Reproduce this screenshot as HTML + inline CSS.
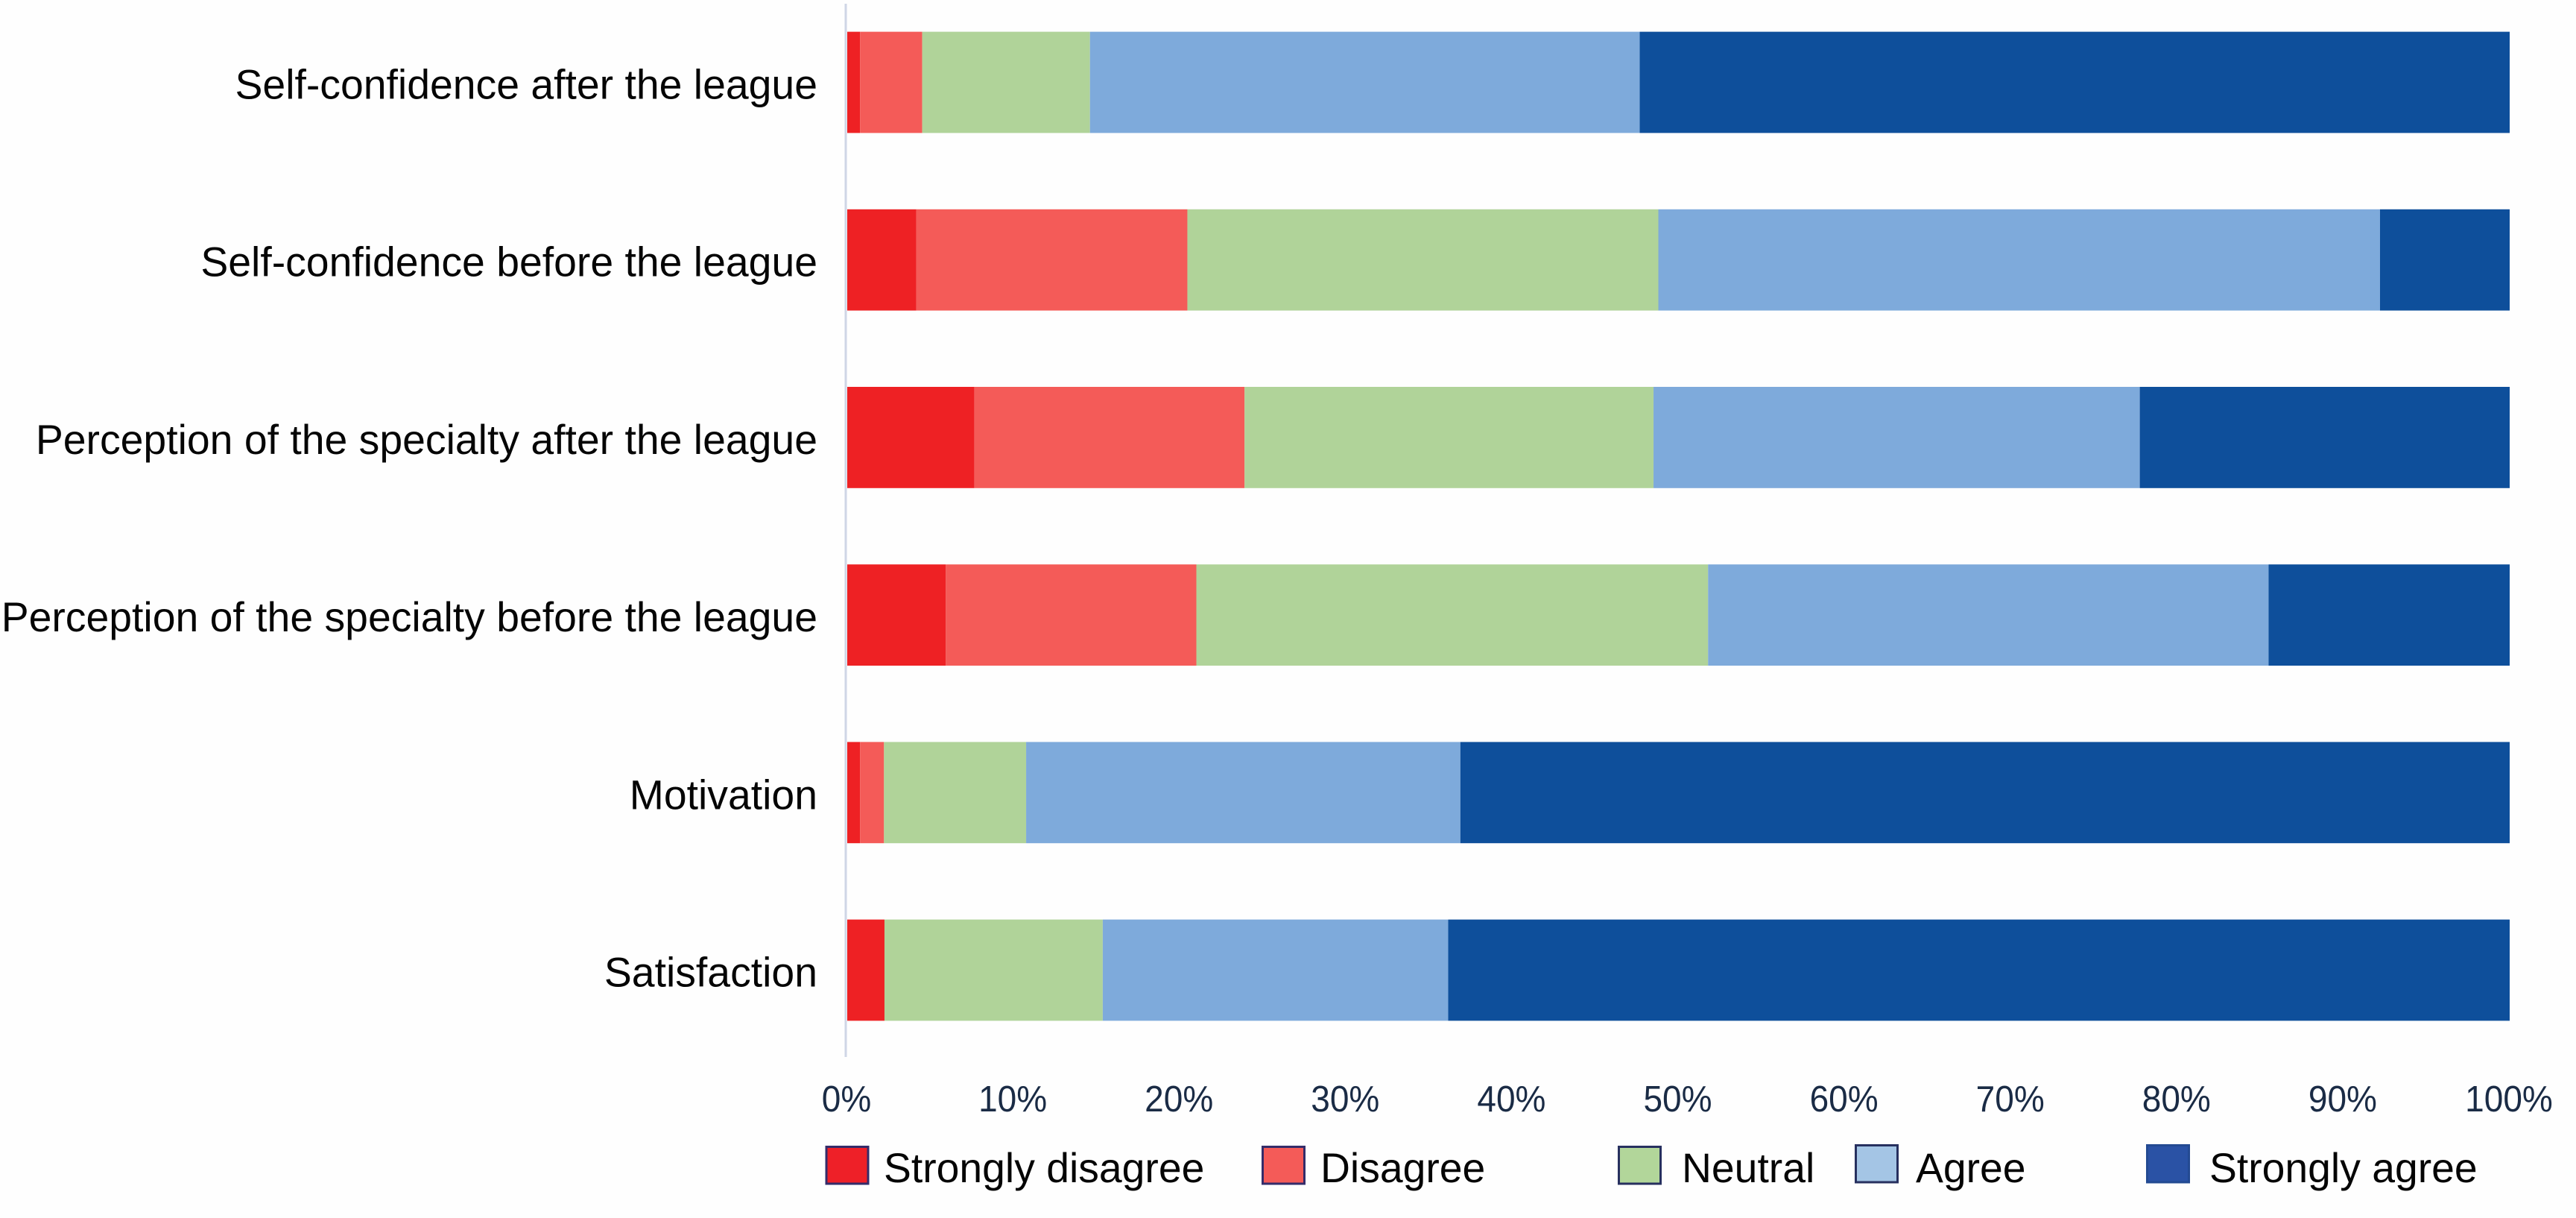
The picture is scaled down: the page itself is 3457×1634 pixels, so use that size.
<!DOCTYPE html>
<html lang="en">
<head>
<meta charset="utf-8">
<title>Survey responses stacked bar chart</title>
<style>
  html, body { margin: 0; padding: 0; background: #fefefe; }
  body { width: 3457px; height: 1634px; overflow: hidden; }
  svg { display: block; }
  text { font-family: "Liberation Sans", Arial, sans-serif; }
</style>
</head>
<body>
<svg id="chart" xmlns="http://www.w3.org/2000/svg" width="3457" height="1634" viewBox="0 0 3457 1634"></svg>
<script>
const categories = [
  'Self-confidence after the league',
  'Self-confidence before the league',
  'Perception of the specialty after the league',
  'Perception of the specialty before the league',
  'Motivation',
  'Satisfaction'
];
const seriesNames = ['Strongly disagree', 'Disagree', 'Neutral', 'Agree', 'Strongly agree'];
const stronglyDisagree = [0.77, 4.16, 7.65, 5.92, 0.77, 2.24];
const disagree = [3.74, 16.3, 16.25, 15.08, 1.44, 0];
const neutral = [10.09, 28.33, 24.6, 30.78, 8.55, 13.13];
const agree = [33.07, 43.41, 29.25, 33.72, 26.12, 20.78];
const stronglyAgree = [52.33, 7.8, 22.25, 14.5, 63.12, 63.85];
const tickValues = [0, 10, 20, 30, 40, 50, 60, 70, 80, 90, 100];

const seriesValues = [stronglyDisagree, disagree, neutral, agree, stronglyAgree];
const barColors = ['#ee2124', '#f45b58', '#b0d399', '#7eaadb', '#0e4f9b'];
const legendColors = ['#ee2028', '#f45b58', '#b2d69a', '#a4c5e5', '#2a52a5'];
const legendBorders = ['#342c6a', '#342c6a', '#27305f', '#27305f', '#234a92'];
const legendSwatchX = [1107.5, 1693, 2171, 2489, 2880];
const legendSwatchY = [1537, 1537, 1537, 1535, 1535];
const legendTextX = [1186, 1772, 2257, 2571, 2965];

const svg = document.getElementById('chart');
const NS = 'http://www.w3.org/2000/svg';
const plotLeft = 1137, plotWidth = 2231;
const firstBarTop = 42.6, barPitch = 238.2, barHeight = 135.8;

function xScale(v) { return plotLeft + v / 100 * plotWidth; }
function yScale(i) { return firstBarTop + i * barPitch; }
function make(tag, attrs, parent) {
  const el = document.createElementNS(NS, tag);
  for (const k in attrs) el.setAttribute(k, attrs[k]);
  (parent || svg).appendChild(el);
  return el;
}

const axisLine = make('line', { x1: 1135, x2: 1135, y1: 5, y2: 1418, stroke: '#cfd6e6', 'stroke-width': 3 });



categories.forEach(function (cat, i) {
  const label = make('text', { x: 1097, y: yScale(i) + barHeight / 2 + 22, 'text-anchor': 'end', 'font-size': 55.35, fill: '#050505' });
  label.textContent = cat;
  
  

  let cum = 0;
  seriesValues.forEach(function (vals, s) {
    const v = vals[i];
    const bar = make('rect', {
      x: xScale(cum), y: yScale(i),
      width: xScale(cum + v) - xScale(cum), height: barHeight,
      fill: barColors[s]
    });
    
    
    cum += v;
  });
});

tickValues.forEach(function (t) {
  const tick = make('text', {
    transform: 'translate(' + (xScale(t) - 1) + ' 1491) scale(1 1.07)',
    'text-anchor': 'middle', 'font-size': 46, fill: '#1a2b45'
  });
  tick.textContent = t + '%';
  
  
});

seriesNames.forEach(function (name, s) {
  const swatch = make('rect', {
    x: legendSwatchX[s] + 1.5, y: legendSwatchY[s] + 1.5,
    width: 56, height: 49.5,
    fill: legendColors[s], stroke: legendBorders[s], 'stroke-width': 3
  });
  
  
  const txt = make('text', { x: legendTextX[s], y: 1586, 'font-size': 55.3, fill: '#050505' });
  txt.textContent = name;
  
  
});
</script>
</body>
</html>
